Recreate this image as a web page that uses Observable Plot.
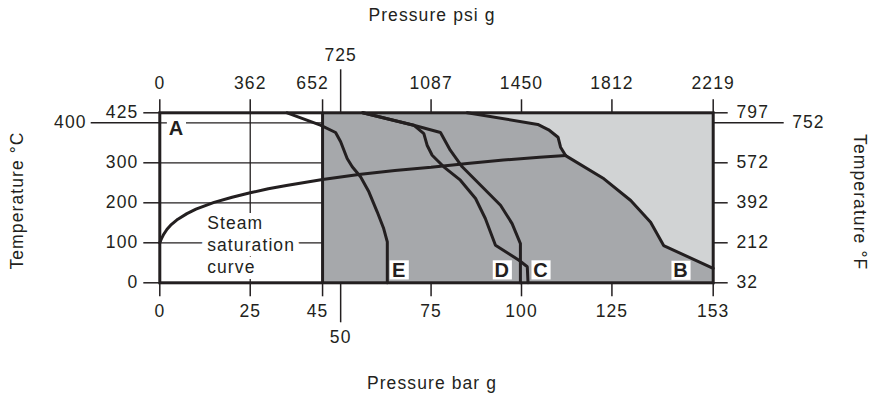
<!DOCTYPE html>
<html><head><meta charset="utf-8">
<script src="https://cdn.jsdelivr.net/npm/d3@7"></script>
<script src="https://cdn.jsdelivr.net/npm/@observablehq/plot@0.6"></script>
<style>
body{margin:0;background:#fff;}
#chart svg text{letter-spacing:1.1px;}
#chart svg g[aria-label="region-label"] text{letter-spacing:0;}
</style></head><body><div id="chart"></div>
<script>
// ---- tick values and labels ----
const barTicks = [0, 25, 45, 75, 100, 125, 153];
const barLongTick = [50];
const psiLabels = ["0", "362", "652", "1087", "1450", "1812", "2219"];
const psiLongLabel = ["725"];
const tempTicks = [0, 100, 200, 300, 425];
const tempLongTick = [400];
const fahrLabels = ["32", "212", "392", "572", "797"];
const fahrLongLabel = ["752"];
const gridTemps = [100, 200, 300, 400];
const gridBars = [25];
const splitBar = [45];

// ---- regions ----
const darkRegion = [{x1: 45, x2: 153, y1: 0, y2: 425}];
const barMax = 153;
const tempMax = 425;

// ---- curves [pressure bar g, temperature °C] ----
const curveE = [[35.2,425],[44.4,394],[48.6,375.7],[50.0,352.5],[51.8,310.7],[53.2,290],[55.5,265],[57.8,227.5],[60.1,177.5],[61.9,135.7],[62.9,102.5],[62.9,0]];
const curveD = [[56.1,425],[70.2,394],[73.0,373],[73.9,344],[75.3,319],[78.5,290],[83.1,256.5],[87.3,210.7],[90.0,160.7],[92.8,94],[99.3,56.5],[101.6,40],[101.8,0]];
const curveC = [[56.1,425],[70.2,394],[77.6,375.7],[80.3,331.5],[83.6,290],[88.7,244],[94.2,194],[97.4,148],[99.7,98],[99.7,0]];
const curveB = [[85,425],[104.5,396],[107.5,382.5],[110.1,364],[110.8,339],[112.2,318],[122.8,260],[130.2,205.7],[135.7,151.5],[139.3,93],[153,36]];
const saturation = [[0,100],[0.25,106],[0.5,111],[1,120],[2,134],[3,144],[5,159],[7.5,173],[10,184],[15,201],[20,214],[25,225],[30,235],[35,243],[40,251],[45,258],[55,271],[65,281],[75,289],[85,298],[95,307],[105,314],[112.2,318]];

// ---- annotations ----
const regionLabels = ["A", "E", "D", "C", "B"];
const labelBar = [4.6, 66.2, 94.7, 105.4, 144.1];
const labelTemp = [385, 30.8, 30.8, 30.8, 29.8];
const steamText = ["Steam\nsaturation\ncurve"];
const steamBar = [13.1];
const steamTemp = [174];

const ink = "#231f20";
const dark = "#a6a8ab";
const light = "#d1d3d4";

const psiMap = new Map(barTicks.map((b, i) => [b, psiLabels[i]]));
const fahrMap = new Map(tempTicks.map((t, i) => [t, fahrLabels[i]]));
const lineStyle = {stroke: ink, strokeWidth: 3, strokeLinejoin: "miter"};
const tickStyle = {label: null, stroke: ink, strokeWidth: 1.5};

const plot = Plot.plot({
  width: 874, height: 394,
  marginLeft: 159.3, marginRight: 161.3, marginTop: 112.3, marginBottom: 111.7,
  x: {domain: [0, barMax], axis: null},
  y: {domain: [0, tempMax], axis: null},
  style: {fontFamily: "'Liberation Sans', Arial, sans-serif", fontSize: "17.5px", color: ink, background: "white", overflow: "visible"},
  marks: [
    Plot.rect(darkRegion, {x1: "x1", x2: "x2", y1: "y1", y2: "y2", fill: dark}),
    Plot.areaX(curveB, {x1: d => d[0], x2: barMax, y: d => d[1], fill: light}),
    Plot.ruleY(gridTemps, {x1: 0, x2: splitBar[0], stroke: ink, strokeWidth: 1.3}),
    Plot.ruleX(gridBars, {y1: 0, y2: tempMax, stroke: ink, strokeWidth: 1.3}),
    // axes
    Plot.axisX(barTicks, {anchor: "bottom", tickSize: 14, tickPadding: 8, tickFormat: d => d === 45 ? "" : String(d), ...tickStyle}),
    Plot.axisX(splitBar, {anchor: "bottom", tickSize: 0, tickPadding: 22, dx: -5, tickFormat: d => String(d), label: null}),
    Plot.axisX(barLongTick, {anchor: "bottom", tickSize: 40, tickPadding: 8, tickFormat: d => String(d), ...tickStyle}),
    Plot.axisX(barTicks, {anchor: "top", tickSize: 14, tickPadding: 10, tickFormat: d => d === 45 ? "" : psiMap.get(d), ...tickStyle}),
    Plot.axisX(splitBar, {anchor: "top", tickSize: 0, tickPadding: 24, dx: -10, tickFormat: d => psiMap.get(d), label: null}),
    Plot.axisX(barLongTick, {anchor: "top", tickSize: 44, tickPadding: 8, tickFormat: () => psiLongLabel[0], ...tickStyle}),
    Plot.axisY(tempTicks, {anchor: "left", tickSize: 16, tickPadding: 5.5, tickFormat: d => String(d), ...tickStyle}),
    Plot.axisY(tempLongTick, {anchor: "left", tickSize: 68.6, tickPadding: 4.6, tickFormat: d => String(d), ...tickStyle}),
    Plot.axisY(tempTicks, {anchor: "right", tickSize: 14, tickPadding: 9.3, tickFormat: d => fahrMap.get(d), ...tickStyle}),
    Plot.axisY(tempLongTick, {anchor: "right", tickSize: 70, tickPadding: 9, tickFormat: () => fahrLongLabel[0], ...tickStyle}),
    // frame and divider
    Plot.frame({stroke: ink, strokeWidth: 3}),
    Plot.ruleX(splitBar, {stroke: ink, strokeWidth: 3}),
    // curves
    Plot.line(saturation, {x: d => d[0], y: d => d[1], ...lineStyle}),
    Plot.line(curveE, {x: d => d[0], y: d => d[1], ...lineStyle}),
    Plot.line(curveD, {x: d => d[0], y: d => d[1], ...lineStyle}),
    Plot.line(curveC, {x: d => d[0], y: d => d[1], ...lineStyle}),
    Plot.line(curveB, {x: d => d[0], y: d => d[1], ...lineStyle}),
    // annotations
    Plot.text(steamText, {x: (d, i) => steamBar[i], y: (d, i) => steamTemp[i], text: d => d, textAnchor: "start", lineAnchor: "top", lineHeight: 1.257, fill: ink, stroke: "white", strokeWidth: 12, strokeLinejoin: "round", ariaLabel: "steam-label"}),
    Plot.dot(regionLabels, {x: (d, i) => labelBar[i], y: (d, i) => labelTemp[i], symbol: "square", r: 10.8, dy: -0.6, fill: "white", stroke: "none"}),
    Plot.text(regionLabels, {x: (d, i) => labelBar[i], y: (d, i) => labelTemp[i], text: d => d, fontWeight: "bold", fontSize: 20, fill: ink, lineAnchor: "middle", ariaLabel: "region-label"}),
    // titles
    Plot.text(["Pressure psi g"], {frameAnchor: "top", text: d => d, dx: -4.5, dy: -97.2, textAnchor: "middle", lineAnchor: "middle", fill: ink}),
    Plot.text(["Pressure bar g"], {frameAnchor: "bottom", text: d => d, dx: -4.5, dy: 100.4, textAnchor: "middle", lineAnchor: "middle", fill: ink}),
    Plot.text(["Temperature °C"], {frameAnchor: "left", text: d => d, rotate: -90, dx: -142.6, dy: 2.7, textAnchor: "middle", lineAnchor: "middle", fill: ink}),
    Plot.text(["Temperature °F"], {frameAnchor: "right", text: d => d, rotate: 90, dx: 146.9, dy: 4.4, textAnchor: "middle", lineAnchor: "middle", fill: ink})
  ]
});
document.getElementById("chart").append(plot);
</script></body></html>
